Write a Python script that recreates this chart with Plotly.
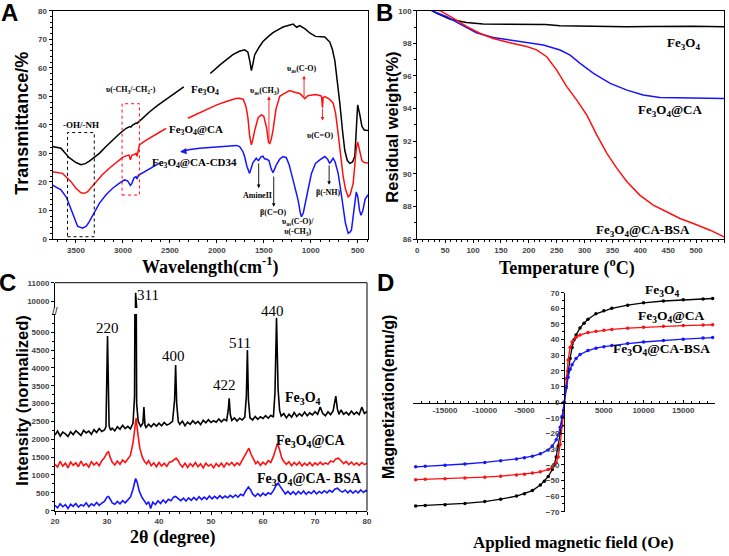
import plotly.graph_objects as go

SANS = "Liberation Sans, Arial, sans-serif"
SERIF = "Liberation Serif, Times New Roman, serif"
BLACK, RED, BLUE = "#000000", "#ff1010", "#1515ff"

# ---------------- Panel A : FTIR ----------------
ir_wn_fe = [3750, 3660, 3572, 3500, 3447, 3400, 3358, 3300, 3251, 3180, 3109, 3040, 2966, 2925, 2915, 2900,
            2860, 2850, 2800, 2718, 2630, 2540, 2450, 2352, None, 2070, 1960, 1829, 1760, 1704, 1669, 1650,
            1632, 1615, 1597, 1550, 1509, 1450, 1402, 1350, 1295, 1240, 1188, 1150, 1117, 1060, 1010, 950,
            903, 850, 797, 770, 743, 715, 690, 660, 637, 610, 583, 555, 530, 515, 500, 480, 455, 430, 390]
ir_t_fe = [32.4, 31.8, 28.5, 26.8, 26.0, 26.4, 27.3, 28.6, 30.0, 32.4, 34.7, 36.8, 38.8, 39.4, 39.2, 39.8,
           40.6, 40.5, 42.0, 44.5, 46.8, 48.8, 51.0, 53.3, None, 58.0, 61.2, 64.6, 65.8, 66.3, 65.5, 62.5,
           59.0, 61.5, 64.5, 67.2, 69.2, 71.0, 72.3, 73.3, 74.3, 74.8, 75.3, 74.2, 74.8, 73.6, 72.2, 71.0,
           71.0, 70.8, 69.0, 66.5, 62.5, 55.0, 47.5, 37.5, 31.0, 27.5, 26.5, 27.0, 29.0, 38.0, 47.0, 44.0,
           39.5, 38.2, 38.0]

ir_wn_ca = [3750, 3643, 3553, 3500, 3447, 3410, 3376, 3330, 3287, 3220, 3145, 3070, 3003, 2960, 2935, 2920,
            2905, 2880, 2860, 2850, 2835, 2824, 2760, 2682, 2610, 2540, None, 2309, 2200, 2113, 2000, 1899,
            1800, 1760, 1720, 1690, 1669, 1650, 1632, 1615, 1597, 1560, 1526, 1500, 1470, 1450, 1437, 1420,
            1402, 1370, 1330, 1280, 1224, 1180, 1117, 1080, 1064, 1030, 992, 950, 903, 885, 875, 868, 850,
            800, 761, 735, 708, 680, 655, 630, 601, 580, 560, 548, 530, 515, 500, 480, 455, 430, 390]
ir_t_ca = [23.6, 23.0, 20.1, 17.8, 16.2, 16.0, 16.6, 18.3, 20.1, 22.5, 24.8, 26.8, 28.6, 29.2, 29.4, 27.8,
           29.3, 29.6, 30.0, 29.0, 31.5, 33.0, 34.5, 35.9, 37.4, 38.8, None, 42.3, 44.0, 45.3, 47.0, 48.2,
           49.2, 49.3, 49.0, 46.5, 42.5, 36.0, 33.0, 35.0, 38.0, 42.5, 43.5, 43.0, 39.0, 34.0, 33.3, 35.0,
           38.0, 45.5, 50.0, 51.0, 52.0, 51.5, 51.0, 49.8, 49.2, 50.2, 50.5, 50.6, 50.3, 50.0, 46.0, 49.5, 49.9,
           49.0, 47.6, 44.0, 37.0, 28.5, 22.0, 17.5, 14.8, 15.5, 17.5, 19.5, 26.0, 31.5, 34.0, 31.0, 27.5,
           26.8, 26.6]

ir_wn_cd = [3750, 3660, 3600, 3572, 3520, 3483, 3430, 3390, 3358, 3300, 3251, 3180, 3109, 3040, 2984, 2950,
            2935, 2920, 2905, 2880, 2860, 2850, 2835, 2789, 2700, 2611, None, 2380, 2300, 2184, 2050, 1899,
            1790, 1757, 1720, 1704, 1680, 1651, 1630, 1615, 1580, 1560, 1551, 1530, 1509, 1490, 1473, 1445,
            1420, 1402, 1385, 1366, 1330, 1295, 1260, 1230, 1206, 1170, 1135, 1110, 1099, 1080, 1064, 1030,
            992, 950, 903, 850, 820, 800, 790, 761, 740, 708, 680, 655, 630, 601, 580, 566, 545, 530, 515,
            500, 480, 465, 445, 420, 390]
ir_t_cd = [18.9, 17.2, 14.5, 12.0, 7.5, 4.5, 3.8, 4.5, 6.1, 9.5, 12.5, 15.5, 17.8, 19.5, 20.7, 20.4,
           19.8, 18.8, 19.5, 21.5, 21.8, 21.0, 22.3, 23.2, 25.0, 26.6, None, 30.6, 31.3, 31.8, 32.2, 32.6,
           32.8, 32.4, 30.5, 28.9, 25.5, 23.0, 25.5, 26.8, 28.3, 27.5, 27.7, 28.8, 29.0, 28.0, 28.0, 27.5,
           24.5, 23.2, 24.5, 26.0, 28.0, 28.9, 28.5, 26.0, 23.0, 18.0, 13.7, 9.0, 7.8, 9.0, 11.3, 17.0,
           23.0, 26.5, 27.7, 28.9, 28.0, 26.6, 26.8, 28.3, 27.0, 23.0, 17.0, 11.3, 5.5, 2.0, 2.5, 3.2, 9.0,
           14.0, 16.5, 15.0, 10.0, 8.3, 10.0, 14.0, 15.5]
ir_y_ticks = list(range(0, 81, 10))

# ---------------- Panel B : TGA ----------------
tga_T_fe = [26, 35, 59, 88, 118, 150, 196, 230, 256, 300, 340, 375, 420, 460, 495, 550]
tga_w_fe = [100, 99.84, 99.47, 99.27, 99.18, 99.17, 99.2, 99.15, 99.08, 99.05, 99.03, 99.02, 99.03, 99.05,
            99.05, 99.02]
tga_T_ca = [26, 53, 77, 106, 136, 166, 196, 226, 256, 274, 292, 316, 346, 376, 405, 435, 465, 495, 550]
tga_w_ca = [100, 99.63, 99.18, 98.65, 98.36, 98.2, 98.04, 97.9, 97.59, 97.28, 96.77, 96.16, 95.54, 95.13,
            94.83, 94.68, 94.66, 94.66, 94.62]
tga_T_bsa = [30, 41, 65, 89, 113, 136, 166, 196, 214, 232, 250, 268, 286, 304, 322, 340, 358, 376, 399,
             423, 447, 471, 495, 525, 550]
tga_w_bsa = [100.05, 100, 99.53, 99.02, 98.6, 98.3, 98.04, 97.8, 97.6, 97.18, 96.36, 95.34, 94.52, 93.6,
             92.37, 91.25, 90.33, 89.51, 88.69, 88.08, 87.67, 87.26, 86.95, 86.54, 86.13]

# ---------------- Panel C : XRD ----------------
xrd_x_fe = [20, 20.5, 21, 21.5, 22, 22.5, 23, 23.5, 24, 24.5, 25, 25.5, 26, 26.5, 27, 27.5, 28, 28.5, 29,
            29.5, 29.8, 30.1, 30.4, 30.7, 31, 31.5, 32, 32.5, 33, 33.5, 34, 34.5, 35, 35.3, 35.5, 35.7, 36,
            36.5, 36.9, 37.1, 37.3, 37.5, 38, 38.5, 39, 39.5, 40, 40.5, 41, 41.5, 42, 42.6, 43.0, 43.2, 43.4,
            43.7, 44, 44.5, 45, 45.5, 46, 46.5, 47, 47.5, 48, 48.5, 49, 49.5, 50, 50.5, 51, 51.5, 52, 52.5,
            53, 53.3, 53.5, 53.7, 54, 54.5, 55, 55.5, 56, 56.5, 56.8, 57.0, 57.2, 57.5, 58, 58.5, 59, 59.5,
            60, 60.5, 61, 61.5, 62, 62.3, 62.6, 62.9, 63.2, 63.5, 64, 64.5, 65, 65.5, 66, 66.5, 67, 67.5,
            68, 68.5, 69, 69.5, 70, 70.5, 71, 71.5, 72, 72.5, 73, 73.5, 74, 74.3, 74.6, 75, 75.5, 76, 76.5,
            77, 77.5, 78, 78.5, 79, 79.5, 80]
xrd_y_fe = [2120, 2230, 2090, 2200, 2150, 2080, 2210, 2130, 2240, 2160, 2110, 2250, 2180, 2230, 2140, 2270,
            2190, 2300, 2220, 2260, 2350, 4890, 2380, 2250, 2310, 2240, 2350, 2280, 2390, 2300, 2360, 2290,
            2450, 3200, 10450, 3000, 2500, 2360, 2450, 2900, 2400, 2330, 2420, 2350, 2440, 2370, 2450, 2380,
            2470, 2400, 2430, 2500, 3100, 4080, 3000, 2500, 2420, 2510, 2380, 2480, 2420, 2520, 2440, 2500,
            2410, 2530, 2460, 2550, 2470, 2520, 2480, 2570, 2490, 2560, 2520, 2800, 3150, 2700, 2530, 2600,
            2510, 2590, 2540, 2620, 3200, 4500, 3100, 2600, 2540, 2640, 2560, 2630, 2580, 2660, 2590, 2670,
            2620, 3300, 5400, 3400, 2800, 2650, 2720, 2600, 2700, 2620, 2750, 2640, 2720, 2650, 2760, 2660,
            2740, 2680, 2770, 2700, 2900, 2720, 2660, 2770, 2690, 2800, 3210, 2850, 2700, 2820, 2700, 2760,
            2680, 2790, 2700, 2760, 2690, 2900, 2720, 2780]

xrd_x_ca = [20, 20.5, 21, 21.5, 22, 22.5, 23, 23.5, 24, 24.5, 25, 25.5, 26, 26.5, 27, 27.5, 28, 28.5, 29,
            29.5, 30, 30.3, 30.6, 31, 31.5, 32, 32.5, 33, 33.5, 34, 34.5, 35, 35.4, 35.6, 35.9, 36.3, 36.8,
            37.2, 37.6, 38, 38.5, 39, 39.5, 40, 40.5, 41, 41.5, 42, 42.5, 43, 43.3, 43.7, 44, 44.5, 45, 45.5,
            46, 46.5, 47, 47.5, 48, 48.5, 49, 49.5, 50, 50.5, 51, 51.5, 52, 52.5, 53, 53.5, 54, 54.5, 55,
            55.5, 56, 56.5, 57, 57.3, 57.7, 58.2, 58.6, 59, 59.5, 60, 60.5, 61, 61.5, 62, 62.5, 62.8, 63.2,
            63.6, 64, 64.5, 65, 65.5, 66, 66.5, 67, 67.5, 68, 68.5, 69, 69.5, 70, 70.5, 71, 71.5, 72, 72.5,
            73, 73.5, 74, 74.5, 75, 75.5, 76, 76.5, 77, 77.5, 78, 78.5, 79, 79.5, 80]
xrd_y_ca = [1300, 1220, 1380, 1250, 1330, 1200, 1360, 1270, 1340, 1230, 1390, 1260, 1320, 1220, 1370, 1280,
            1350, 1260, 1400, 1480, 1620, 1650, 1500, 1360, 1280, 1390, 1300, 1420, 1350, 1450, 1550, 1900,
            2450, 2590, 2200, 1750, 1500, 1380, 1310, 1400, 1260, 1340, 1230, 1350, 1250, 1330, 1240, 1360,
            1380, 1450, 1470, 1400, 1310, 1220, 1330, 1210, 1320, 1240, 1350, 1230, 1310, 1200, 1330, 1250,
            1300, 1200, 1320, 1240, 1330, 1220, 1340, 1280, 1350, 1260, 1340, 1280, 1420, 1550, 1700, 1750,
            1580, 1420, 1320, 1380, 1270, 1360, 1290, 1400, 1350, 1520, 1780, 1890, 1700, 1480, 1380, 1300,
            1370, 1260, 1350, 1280, 1360, 1250, 1330, 1270, 1350, 1260, 1340, 1280, 1360, 1290, 1340, 1300,
            1390, 1360, 1450, 1470, 1400, 1320, 1380, 1290, 1360, 1280, 1340, 1270, 1350, 1290, 1330]

xrd_x_bsa = [20, 20.5, 21, 21.5, 22, 22.5, 23, 23.5, 24, 24.5, 25, 25.5, 26, 26.5, 27, 27.5, 28, 28.5, 29,
             29.5, 30, 30.3, 30.7, 31, 31.5, 32, 32.5, 33, 33.5, 34, 34.5, 35, 35.5, 35.8, 36.2, 36.7, 37.2,
             37.6, 38, 38.4, 38.8, 39.3, 39.8, 40.3, 40.8, 41.3, 41.8, 42.3, 42.8, 43.2, 43.7, 44.2, 44.7,
             45.2, 45.7, 46.2, 46.7, 47.2, 47.7, 48.2, 48.7, 49.2, 49.7, 50.2, 50.7, 51.2, 51.7, 52.2, 52.7,
             53.2, 53.7, 54.2, 54.7, 55.2, 55.7, 56.2, 56.7, 57.2, 57.6, 58, 58.5, 59, 59.5, 60, 60.5, 61,
             61.5, 62, 62.5, 62.9, 63.3, 63.8, 64.3, 64.8, 65.3, 65.8, 66.3, 66.8, 67.3, 67.8, 68.3, 68.8,
             69.3, 69.8, 70.3, 70.8, 71.3, 71.8, 72.3, 72.8, 73.3, 73.8, 74.3, 74.8, 75.3, 75.8, 76.3, 76.8,
             77.3, 77.8, 78.3, 78.8, 79.3, 79.8, 80]
xrd_y_bsa = [150, 80, 190, 110, 170, 60, 180, 120, 200, 100, 170, 130, 220, 110, 190, 140, 230, 150, 210,
             260, 380, 400, 300, 220, 180, 260, 190, 280, 220, 310, 380, 600, 900, 800, 550, 380, 260, 180,
             250, 60, 240, 170, 280, 200, 300, 220, 320, 280, 380, 400, 340, 280, 350, 270, 360, 290, 370,
             300, 390, 310, 380, 320, 410, 330, 400, 340, 420, 350, 410, 360, 430, 370, 440, 380, 460, 420,
             560, 660, 590, 470, 400, 480, 410, 490, 430, 500, 460, 560, 700, 770, 680, 560, 470, 540, 460,
             530, 450, 540, 470, 550, 460, 530, 480, 560, 470, 540, 490, 560, 500, 570, 520, 600, 630, 560,
             520, 580, 500, 570, 490, 560, 500, 580, 510, 570, 530]

xrd_peak_labels = ["220", "311", "400", "422", "511", "440"]
xrd_low_ticks = list(range(0, 5001, 500))
xrd_top_ticks = [10000, 11000]

# ---------------- Panel D : VSM ----------------
vsm_H_fe = [-18700, -17500, -15000, -12500, -10000, -8000, -6000, -5000, -4000, -3000, -2500, -2000, -1500,
            -1250, -1000, -750, -500, -250, 0, 250, 500, 750, 1000, 1250, 1500, 2000, 2500, 3000, 4000, 5000,
            6000, 8000, 10000, 12500, 15000, 17500, 18700]
vsm_M_fe = [-66.3, -66.0, -65.5, -64.7, -63.5, -62.0, -60.0, -58.5, -56.5, -53.0, -50.5, -47.5, -43.0,
            -40.0, -35.0, -28.0, -20.0, -10.0, 0, 10.0, 20.0, 28.0, 35.0, 40.0, 43.0, 47.5, 50.5, 53.0, 56.5,
            58.5, 60.0, 62.0, 63.5, 64.7, 65.5, 66.0, 66.3]
vsm_H_ca = [-18700, -17500, -15000, -12500, -10000, -8000, -6000, -5000, -4000, -3000, -2000, -1500, -1000,
            -750, -500, -250, 0, 250, 500, 750, 1000, 1500, 2000, 3000, 4000, 5000, 6000, 8000, 10000, 12500,
            15000, 17500, 18700]
vsm_M_ca = [-49.5, -49.3, -49.0, -48.5, -47.9, -47.3, -46.5, -46.0, -45.3, -44.5, -43.0, -41.5, -38.5, -35.0,
            -27.0, -15.0, 0, 15.0, 27.0, 35.0, 38.5, 41.5, 43.0, 44.5, 45.3, 46.0, 46.5, 47.3, 47.9, 48.5,
            49.0, 49.3, 49.5]
vsm_H_bsa = vsm_H_ca
vsm_M_bsa = [-41.3, -41.0, -40.3, -39.5, -38.5, -37.5, -36.3, -35.5, -34.5, -33.0, -30.5, -28.0, -24.0,
             -21.0, -16.0, -9.0, 0, 9.0, 16.0, 21.0, 24.0, 28.0, 30.5, 33.0, 34.5, 35.5, 36.3, 37.5, 38.5,
             39.5, 40.3, 41.0, 41.3]
vsm_x_ticks = [-15000, -10000, -5000, 5000, 10000, 15000]

fig = go.Figure()

def line(x, y, color, xa, ya, w=1.5, markers=False):
    fig.add_trace(go.Scatter(
        x=x, y=y, mode="lines+markers" if markers else "lines",
        line=dict(color=color, width=w), marker=dict(size=3.5, color=color),
        xaxis=xa, yaxis=ya, showlegend=False, hoverinfo="skip", connectgaps=False))

line(ir_wn_fe, ir_t_fe, BLACK, "x", "y")
line(ir_wn_ca, ir_t_ca, RED, "x", "y")
line(ir_wn_cd, ir_t_cd, BLUE, "x", "y")

line(tga_T_fe, tga_w_fe, BLACK, "x2", "y2")
line(tga_T_ca, tga_w_ca, BLUE, "x2", "y2")
line(tga_T_bsa, tga_w_bsa, RED, "x2", "y2")

line(xrd_x_fe, xrd_y_fe, BLACK, "x3", "y3", w=1.6)
line(xrd_x_fe, xrd_y_fe, BLACK, "x3", "y5", w=1.6)
line(xrd_x_ca, xrd_y_ca, RED, "x3", "y3", w=1.6)
line(xrd_x_bsa, xrd_y_bsa, BLUE, "x3", "y3", w=1.6)

line(vsm_H_fe, vsm_M_fe, BLACK, "x4", "y4", w=1.3, markers=True)
line(vsm_H_ca, vsm_M_ca, RED, "x4", "y4", w=1.3, markers=True)
line(vsm_H_bsa, vsm_M_bsa, BLUE, "x4", "y4", w=1.3, markers=True)

W, H = 729, 556
def px(x): return x / W
def py(y): return 1 - y / H

tickfont = dict(family=SANS, size=8, color="#444444", weight="bold")
def minor(d, t="outside"):
    return dict(dtick=d, ticklen=2, ticks=t, tickcolor="black")
def ax(**kw):
    base = dict(showline=True, linecolor="black", linewidth=1, ticks="outside", ticklen=3,
                tickcolor="black", tickfont=tickfont, showgrid=False, zeroline=False,
                showticklabels=True, automargin=False)
    base.update(kw)
    return base

fig.update_layout(
    width=W, height=H, margin=dict(l=0, r=0, t=0, b=0, autoexpand=False),
    paper_bgcolor="white", plot_bgcolor="white",
    xaxis=ax(domain=[px(52.5), px(368)], range=[3750, 390], anchor="y",
             tickvals=[3500, 3000, 2500, 2000, 1500, 1000, 500], mirror=True, minor=minor(100)),
    yaxis=ax(domain=[py(239), py(10.7)], range=[0, 80], anchor="x", side="left",
             tickvals=ir_y_ticks, ticktext=[str(v) for v in ir_y_ticks], mirror=True, minor=minor(2)),
    xaxis2=ax(domain=[px(417.3), px(724)], range=[0, 550], anchor="y2", dtick=50, mirror=True, minor=minor(10)),
    yaxis2=ax(domain=[py(239), py(10.7)], range=[86, 100], anchor="x2", dtick=2, mirror=True, minor=minor(1)),
    xaxis3=ax(domain=[px(55), px(367)], range=[20, 80], anchor="y3", dtick=10, minor=minor(2)),
    yaxis3=ax(domain=[py(510.7), py(314)], range=[0, 5508], anchor="x3", tickvals=xrd_low_ticks,
              ticktext=[str(v) for v in xrd_low_ticks], minor=minor(250)),
    yaxis5=ax(domain=[py(308), py(282.7)], range=[9618, 11000], anchor="x3", tickvals=xrd_top_ticks,
              ticktext=[str(v) for v in xrd_top_ticks]),
    xaxis4=ax(domain=[px(413.3), px(715)], range=[-19000, 19000], anchor="free", position=py(402.7),
              tickvals=vsm_x_ticks, ticktext=[str(v) for v in vsm_x_ticks], ticks="inside",
              minor=minor(1000, "inside")),
    yaxis4=ax(domain=[py(511.7), py(292.7)], range=[-70, 70], anchor="free", position=px(564),
              dtick=10, minor=minor(5)),
)

ann = []
def A(text, x, y, xref="x", yref="y", size=11, family=SERIF, bold=True, color="black", **kw):
    d = dict(text=text, x=x, y=y, xref=xref, yref=yref, showarrow=False, xanchor="center", yanchor="middle",
             font=dict(family=family, size=size, color=color, weight="bold" if bold else "normal"))
    d.update(kw)
    ann.append(d)

FE = "Fe<sub>3</sub>O<sub>4</sub>"
# panel letters
A("A", px(9), py(13), "paper", "paper", size=24, family=SANS)
A("B", px(384), py(13), "paper", "paper", size=24, family=SANS)
A("C", px(7), py(282), "paper", "paper", size=24, family=SANS)
A("D", px(385), py(282), "paper", "paper", size=24, family=SANS)
# axis titles
A("Transmittance/%", px(21.7), py(123), "paper", "paper", size=18, family=SANS, textangle=-90)
A("Wavelength(cm<sup>-1</sup>)", px(210), py(266), "paper", "paper", size=18)
A("Residual weight(%)", px(391.7), py(127), "paper", "paper", size=16.5, family=SANS, textangle=-90)
A("Temperature (<sup>o</sup>C)", px(566.7), py(266.5), "paper", "paper", size=18)
A("Intensity (normalized)", px(21.7), py(400), "paper", "paper", size=16.5, family=SANS, textangle=-90)
A("2θ (degree)", px(173.3), py(537), "paper", "paper", size=18)
A("Magnetization(emu/g)", px(388), py(397), "paper", "paper", size=16, family=SANS, textangle=-90)
A("Applied magnetic field (Oe)", px(573), py(542), "paper", "paper", size=17)

# Panel A labels
A(FE, 2131, 52.3, size=11)
A(FE + "@CA", 2219, 38.2, size=11)
A(FE + "@CA-CD34", 2237, 26.6, size=11)
A("-OH/-NH", 3447, 39.8, size=9)
A("υ(-CH<sub>3</sub>/-CH<sub>2</sub>-)", 2913, 52.2, size=8)
A("υ<sub>as</sub>(CH<sub>3</sub>)", 1490, 51.8, size=8)
A("υ<sub>as</sub>(C-O)", 1099, 59.5, size=8)
A("υ(C=O)", 903, 36.3, size=8)
A("AmineII", 1562, 15.2, size=8)
A("β(C=O)", 1402, 9.2, size=8)
A("β(-NH)", 815, 16.4, size=8)
A("υ<sub>as</sub>(C-O)/<br>υ(-CH<sub>3</sub>)", 1135, 4.2, size=8)

def arrow(x, y0, y1, color):
    ann.append(dict(x=x, y=y1, ax=x, ay=y0, xref="x", yref="y", axref="x", ayref="y", text="",
                    showarrow=True, arrowhead=2, arrowsize=0.8, arrowwidth=0.9, arrowcolor=color))
arrow(1445, 33.8, 50.0, RED)
arrow(1071, 49.4, 57.2, RED)
arrow(875, 46.2, 41.5, RED)
arrow(1554, 27.0, 17.8, BLACK)
arrow(1394, 22.4, 11.3, BLACK)
arrow(804, 26.3, 19.0, BLACK)
ann.append(dict(x=2390, y=30.6, ax=2330, ay=30.8, xref="x", yref="y", axref="x", ayref="y", text="",
                showarrow=True, arrowhead=2, arrowsize=0.9, arrowwidth=1.4, arrowcolor=BLUE))

# Panel B labels
A(FE, 477, 98.0, "x2", "y2", size=13)
A(FE + "@CA", 453, 93.9, "x2", "y2", size=13)
A(FE + "@CA-BSA", 405, 86.55, "x2", "y2", size=13)

# Panel C labels (440 sits above the lower range, so it is placed on the page)
peak_label_pos = [(30.1, 5107, "x3", "y3"), (37.9, 10330, "x3", "y5"), (42.75, 4332, "x3", "y3"),
                  (52.5, 3520, "x3", "y3"), (55.6, 4687, "x3", "y3"), (px(272.5), py(311), "paper", "paper")]
for lab, (lx, ly, xr, yr) in zip(xrd_peak_labels, peak_label_pos):
    A(lab, lx, ly, xr, yr, size=15, bold=False)
A(FE, 67.75, 3147, "x3", "y3", size=14)
A(FE + "@CA", 69.2, 1932, "x3", "y3", size=14)
A(FE + "@CA- BSA", 69.0, 860, "x3", "y3", size=14)
A("//", px(55), py(311), "paper", "paper", size=10, family=SANS, bold=False)

# Panel D labels
A(FE, px(661.7), py(290), "paper", "paper", size=13.5)
A(FE + "@CA", 13550, 54.7, "x4", "y4", size=13.5)
A(FE + "@CA-BSA", 12290, 33.5, "x4", "y4", size=13.5)

fig.update_layout(annotations=ann)

shapes = [
    dict(type="rect", xref="x", yref="y", x0=3590, x1=3305, y0=0.8, y1=37.3,
         line=dict(color="black", width=1, dash="dot")),
    dict(type="rect", xref="x", yref="y", x0=3009, x1=2824, y0=15.4, y1=47.4,
         line=dict(color=RED, width=1, dash="dot")),
    dict(type="line", xref="x3 domain", yref="paper", x0=0, x1=1, y0=py(282.7), y1=py(282.7),
         line=dict(color="black", width=1)),
    dict(type="line", xref="x3 domain", yref="paper", x0=1, x1=1, y0=py(510.7), y1=py(282.7),
         line=dict(color="black", width=1)),
]
fig.update_layout(shapes=shapes)

fig.write_html("out.html", config={"displayModeBar": False},
               post_script="document.body.style.margin='0px';document.body.style.overflow='hidden';")
